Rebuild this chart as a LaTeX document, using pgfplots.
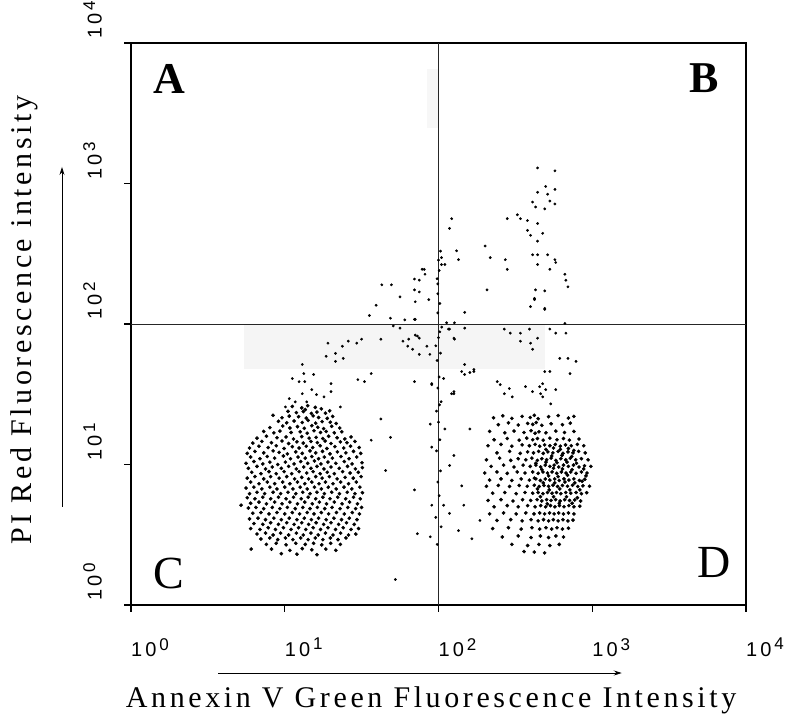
\documentclass[border=0pt]{standalone}
\usepackage{fontspec}
\setmainfont{Liberation Serif}
\newfontfamily\labfont[LetterSpace=12]{Liberation Serif}
\newfontfamily\tickfont{Liberation Sans}
\usepackage{pgfplots}
\pgfplotsset{compat=1.18}
\usetikzlibrary{arrows.meta}

% tick label: 10 with a raised exponent
\newcommand{\tl}[1]{{\fontsize{20}{20}\selectfont\tickfont 1\kern3pt0\kern3pt\raisebox{6.5pt}{\fontsize{17}{17}\selectfont #1}}}

\pgfplotsset{dot/.style={only marks, mark=*, mark size=1.2pt, black},
             bigdot/.style={only marks, mark=*, mark size=1.65pt, black}}

\begin{document}
\begin{tikzpicture}
\begin{axis}[
  scale only axis, width=615pt, height=562pt,
  xmode=log, ymode=log,
  xmin=1, xmax=10000, ymin=1, ymax=10000,
  xtick={1,10,100,1000,10000}, ytick={1,10,100,1000,10000},
  xticklabels={\tl{0},\tl{1},\tl{2},\tl{3},\tl{4}},
  yticklabels={\tl{0},\tl{1},\tl{2},\tl{3},\tl{4}},
  xminorticks=false, yminorticks=false,
  tick align=outside, xtick pos=left, ytick pos=left,
  major tick length=7pt,
  every tick/.style={black, line width=1.2pt},
  axis line style={line width=1.2pt},
  xticklabel style={anchor=north west, inner sep=0pt, yshift=-26pt},
  yticklabel style={rotate=90, anchor=south west, inner sep=0pt, xshift=4pt, yshift=22pt},
  xlabel={Annexin V Green Fluorescence Intensity},
  ylabel={PI Red Fluorescence intensity},
  xlabel style={at={(axis description cs:0.488,-0.1815)}, anchor=base, inner sep=0pt, font=\fontsize{30}{30}\selectfont\labfont},
  ylabel style={at={(axis description cs:-0.161,0.507)}, anchor=base, inner sep=0pt, font=\fontsize{30}{30}\selectfont\labfont},
  clip=false,
]
% faint scan shading
\fill[black!4] (axis cs:5.46,100) rectangle (axis cs:491,48.2);
\fill[black!3] (axis cs:84,2488) rectangle (axis cs:100,6494);
% quadrant lines
\draw[line width=0.9pt, black!85] (axis cs:100,1) -- (axis cs:100,10000);
\draw[line width=0.9pt, black!85] (axis cs:1,100) -- (axis cs:10000,100);

% viable cells (C)
\addplot[bigdot] coordinates {
(11.2,25.9) (12.9,25.3) (14.1,26.2) (15.8,25.5) (17.3,24.9) (13.6,24.6)
(10.5,23.9) (11.9,23.4) (13.2,23.8) (14.9,23.1) (16.2,23.6) (18.4,23.2) (19.6,24.1)
(9.6,21.5) (10.7,22.1) (12.3,21.9) (13.8,21.4) (15.3,22.2) (16.6,21.6) (18.9,21.3) (20.5,22.0) (8.4,22.4)
(9.1,20.3) (10.3,19.8) (11.5,20.4) (13.0,19.9) (14.2,20.6) (15.9,19.7) (17.5,20.2) (19.8,20.0) (21.6,19.6)
(8.0,18.3) (9.7,18.8) (10.8,18.2) (12.1,18.6) (13.4,18.1) (15.0,18.9) (16.4,18.4) (17.9,18.0) (20.2,18.7) (22.8,18.2)
(7.3,17.2) (8.5,16.8) (9.3,17.3) (11.0,16.9) (12.6,17.1) (14.0,16.7) (15.5,17.4) (17.1,16.9) (18.6,17.2) (21.0,16.8) (23.5,17.1)
(6.6,15.4) (7.6,15.9) (8.9,15.5) (10.2,15.7) (11.4,15.2) (12.9,15.8) (14.4,15.4) (16.0,15.6) (17.7,15.3) (19.3,15.9) (21.9,15.5) (24.6,15.2) (27.0,15.7)
(6.2,14.2) (7.1,14.6) (8.2,14.3) (9.6,14.7) (10.6,14.1) (12.0,14.5) (13.2,14.2) (14.8,14.6) (16.3,14.3) (18.3,14.7) (20.0,14.1) (23.0,14.5) (25.4,14.3) (28.6,14.6)
(5.9,13.1) (6.8,13.5) (7.8,13.2) (8.8,13.6) (9.9,13.0) (11.2,13.4) (12.4,13.1) (13.8,13.5) (15.2,13.2) (17.0,13.6) (18.8,13.0) (21.2,13.4) (24.2,13.1) (26.8,13.5) (30.5,13.2)
(5.7,12.0) (6.4,12.4) (7.3,12.1) (8.4,12.5) (9.2,12.2) (10.4,11.9) (11.8,12.3) (13.0,12.0) (14.6,12.5) (15.9,12.1) (17.6,12.4) (19.7,11.9) (22.0,12.3) (25.0,12.1) (28.0,12.4) (31.2,12.0)
(6.0,11.3) (6.9,11.0) (7.7,11.4) (8.6,11.1) (9.8,11.5) (10.9,11.0) (12.2,11.3) (13.6,11.1) (15.0,11.4) (16.6,11.0) (18.1,11.3) (20.4,11.1) (23.2,11.4) (26.2,11.0) (29.4,11.3)
(5.6,10.2) (6.3,10.5) (7.2,10.1) (8.0,10.4) (9.0,10.0) (10.1,10.4) (11.5,10.1) (12.7,10.5) (14.1,10.2) (15.6,10.6) (17.2,10.1) (19.1,10.4) (21.5,10.2) (24.4,10.5) (27.4,10.1) (31.8,10.3)
(5.8,9.4) (6.6,9.7) (7.5,9.3) (8.3,9.6) (9.5,9.4) (10.6,9.7) (11.9,9.3) (13.3,9.6) (14.8,9.4) (16.2,9.7) (18.0,9.3) (20.0,9.6) (22.6,9.4) (25.6,9.7) (28.8,9.3) (32.0,9.5)
(6.1,8.8) (7.0,8.6) (7.9,8.9) (8.8,8.6) (9.9,8.9) (11.1,8.6) (12.4,8.9) (13.9,8.7) (15.3,8.9) (17.0,8.6) (18.9,8.8) (21.0,8.6) (23.8,8.9) (26.6,8.7) (30.1,8.8)
(5.7,8.0) (6.4,8.2) (7.3,7.9) (8.1,8.2) (9.2,8.0) (10.3,8.2) (11.6,7.9) (12.9,8.1) (14.3,7.9) (15.9,8.2) (17.5,8.0) (19.5,8.2) (21.9,7.9) (24.7,8.1) (27.9,8.0) (31.4,8.2)
(6.0,7.5) (6.8,7.3) (7.7,7.5) (8.6,7.3) (9.7,7.5) (10.8,7.3) (12.1,7.5) (13.5,7.3) (15.0,7.5) (16.7,7.3) (18.4,7.5) (20.6,7.3) (23.1,7.5) (26.0,7.3) (29.2,7.5)
(5.6,6.8) (6.3,6.9) (7.1,6.7) (8.0,6.9) (8.9,6.7) (10.0,6.9) (11.3,6.7) (12.6,6.9) (14.0,6.7) (15.6,6.9) (17.3,6.7) (19.2,6.9) (21.6,6.7) (24.3,6.9) (27.3,6.7) (30.8,6.9)
(5.9,6.2) (6.6,6.35) (7.4,6.2) (8.4,6.35) (9.4,6.2) (10.5,6.35) (11.8,6.2) (13.1,6.35) (14.6,6.2) (16.2,6.35) (18.1,6.2) (20.2,6.35) (22.7,6.2) (25.5,6.35) (28.6,6.2) (32.0,6.3)
(5.7,5.8) (6.4,5.7) (7.2,5.85) (8.1,5.7) (9.1,5.85) (10.2,5.7) (11.4,5.85) (12.8,5.7) (14.2,5.85) (15.9,5.7) (17.7,5.85) (19.7,5.7) (22.1,5.85) (24.9,5.7) (28.0,5.85) (31.0,5.7)
(6.0,5.3) (6.8,5.4) (7.6,5.25) (8.6,5.4) (9.6,5.25) (10.8,5.4) (12.1,5.25) (13.5,5.4) (15.1,5.25) (16.8,5.4) (18.7,5.25) (21.0,5.4) (23.6,5.25) (26.4,5.4) (29.7,5.25)
(5.8,4.9) (6.5,4.95) (7.3,4.85) (8.3,4.95) (9.3,4.85) (10.4,4.95) (11.7,4.85) (13.1,4.95) (14.6,4.85) (16.3,4.95) (18.2,4.85) (20.3,4.95) (22.9,4.85) (25.7,4.95) (28.9,4.85) (31.6,4.95)
(6.2,4.5) (7.0,4.55) (7.9,4.45) (8.9,4.55) (10.0,4.45) (11.2,4.55) (12.5,4.45) (14.0,4.55) (15.5,4.45) (17.3,4.55) (19.3,4.45) (21.7,4.55) (24.4,4.45) (27.5,4.55) (30.6,4.45)
(5.9,4.1) (6.7,4.15) (7.5,4.05) (8.5,4.15) (9.5,4.05) (10.7,4.15) (12.0,4.05) (13.4,4.15) (14.9,4.05) (16.6,4.15) (18.6,4.05) (20.9,4.15) (23.4,4.05) (26.3,4.15) (29.5,4.05)
(6.3,3.8) (7.2,3.75) (8.1,3.85) (9.1,3.75) (10.3,3.85) (11.5,3.75) (12.9,3.85) (14.3,3.75) (16.0,3.85) (17.9,3.75) (20.0,3.85) (22.4,3.75) (25.2,3.85) (28.3,3.75)
(6.0,3.5) (6.9,3.45) (7.8,3.55) (8.7,3.45) (9.8,3.55) (11.0,3.45) (12.3,3.55) (13.7,3.45) (15.3,3.55) (17.1,3.45) (19.1,3.55) (21.4,3.45) (24.0,3.55) (27.0,3.45) (30.2,3.5)
(6.6,3.2) (7.5,3.25) (8.4,3.15) (9.4,3.25) (10.6,3.15) (11.9,3.25) (13.2,3.15) (14.8,3.25) (16.5,3.15) (18.4,3.25) (20.6,3.15) (23.1,3.25) (26.0,3.15) (29.0,3.2)
(7.0,2.95) (8.0,3.0) (9.0,2.92) (10.1,3.0) (11.3,2.92) (12.7,3.0) (14.2,2.92) (15.8,3.0) (17.7,2.92) (19.8,3.0) (22.2,2.92) (25.0,3.0)
(7.6,2.7) (8.8,2.75) (10.2,2.68) (11.8,2.75) (13.6,2.7) (15.4,2.75) (17.4,2.68) (19.9,2.75) (23.0,2.7)
(8.2,2.5) (10.8,2.45) (13.0,2.52) (15.0,2.47) (18.5,2.5) (21.5,2.45)
(9.5,2.32) (16.2,2.28) (12.0,2.3) (5.2,5.13) (6.05,2.5)
};

% early apoptotic cells (D)
\addplot[bigdot] coordinates {
(228,21.5) (262,22.2) (300,21.3) (350,22.0) (395,21.6) (420,22.4) (445,21.2) (520,21.9) (600,22.3) (700,21.4) (760,22.0)
(245,19.2) (285,19.8) (330,19.1) (380,19.6) (410,19.3) (432,19.9) (470,19.0) (540,19.5) (640,19.2) (720,19.7)
(215,17.2) (270,16.8) (310,17.3) (360,16.9) (400,17.4) (425,16.7) (450,17.1) (500,16.8) (580,17.3) (660,16.9) (760,17.2)
(230,15.0) (280,15.3) (335,14.9) (375,15.4) (410,15.0) (440,15.3) (480,14.9) (530,15.4) (590,15.0) (650,15.3) (710,14.9) (820,15.2)
(210,13.6) (255,13.9) (300,13.5) (350,13.8) (390,13.6) (425,13.9) (455,13.5) (490,13.8) (530,13.6) (575,13.9) (620,13.5) (670,13.8) (730,13.6) (800,13.9) (880,13.6)
(240,12.1) (290,12.4) (340,12.0) (380,12.3) (415,12.1) (448,12.4) (480,12.0) (515,12.3) (555,12.1) (600,12.4) (645,12.0) (695,12.3) (750,12.1) (815,12.4) (900,12.1)
(205,10.8) (250,11.1) (295,10.7) (330,11.0) (370,10.8) (405,11.1) (440,10.7) (470,11.0) (505,10.8) (540,11.1) (580,10.7) (625,11.0) (672,10.8) (720,11.1) (780,10.8) (850,11.0) (940,10.8)
(220,9.7) (265,9.9) (310,9.6) (355,9.9) (395,9.7) (430,9.9) (462,9.6) (495,9.9) (530,9.7) (565,9.9) (605,9.6) (650,9.9) (700,9.7) (755,9.9) (820,9.6) (890,9.8) (980,9.7)
(200,8.7) (240,8.85) (280,8.65) (325,8.85) (365,8.7) (410,8.85) (445,8.65) (478,8.85) (512,8.7) (548,8.85) (588,8.65) (630,8.85) (675,8.7) (725,8.85) (785,8.65) (850,8.85) (925,8.7)
(215,7.75) (255,7.9) (300,7.7) (345,7.9) (390,7.75) (430,7.9) (460,7.7) (495,7.9) (530,7.75) (570,7.9) (610,7.7) (655,7.9) (705,7.75) (760,7.9) (825,7.7) (895,7.85)
(205,7.0) (245,7.1) (290,6.98) (335,7.1) (378,7.0) (420,7.12) (452,6.98) (485,7.1) (520,7.0) (555,7.12) (595,6.98) (640,7.1) (690,7.0) (745,7.12) (805,6.98) (870,7.05) (960,7.0)
(225,6.25) (270,6.32) (320,6.2) (365,6.32) (410,6.25) (445,6.32) (478,6.2) (512,6.32) (548,6.25) (585,6.32) (625,6.2) (672,6.32) (725,6.25) (785,6.32) (850,6.2) (920,6.3)
(210,5.55) (255,5.62) (305,5.5) (352,5.62) (398,5.55) (438,5.62) (470,5.5) (505,5.62) (540,5.55) (578,5.62) (618,5.5) (662,5.62) (712,5.55) (770,5.6) (840,5.5)
(230,5.0) (280,5.1) (330,5.0) (380,5.1) (425,5.0) (462,5.1) (498,5.0) (535,5.1) (572,5.0) (612,5.1) (655,5.0) (705,5.1) (760,5.0) (830,5.05)
(215,4.45) (265,4.52) (320,4.45) (370,4.52) (418,4.45) (455,4.52) (490,4.45) (528,4.52) (565,4.45) (605,4.52) (650,4.45) (700,4.52) (760,4.45)
(240,4.0) (295,4.05) (350,3.97) (400,4.05) (445,3.97) (482,4.05) (520,3.97) (558,4.05) (600,3.97) (645,4.05) (695,3.97) (750,4.02)
(225,3.5) (285,3.55) (345,3.47) (405,3.55) (455,3.47) (500,3.55) (545,3.47) (590,3.55) (640,3.47) (700,3.52)
(260,3.05) (330,3.1) (400,3.02) (460,3.1) (520,3.02) (580,3.1) (650,3.05)
(300,2.7) (380,2.65) (450,2.7) (530,2.65) (610,2.7)
(360,2.4) (490,2.35) (420,2.38)
(470,9.2) (520,8.3) (560,9.4) (600,8.2) (640,9.3) (690,8.4) (740,9.2) (500,10.4) (545,11.5) (590,10.3)
(635,11.6) (685,10.4) (735,11.4) (790,10.2) (480,7.4) (525,6.6) (570,7.4) (615,6.7) (665,7.5) (715,6.6)
(770,7.4) (830,6.6) (500,12.8) (560,13.1) (620,12.8) (700,13.0) (760,12.6) (460,5.9) (510,5.25) (560,5.9)
(610,5.3) (680,5.9) (740,5.3) (800,5.8) (420,8.0) (430,10.2) (440,6.7) (880,9.3) (860,7.6) (910,8.3)
};

% late apoptotic / necrotic and transitional events
\addplot[dot] coordinates {
(441,1291) (572,1231) (498,953) (572,908) (441,866) (513,839) (409,738) (530,750) (572,715) (428,681)
(491,660) (326,599) (280,562) (341,562) (379,545) (441,519) (379,464) (397,428) (476,442) (121.8,562)
(118,479) (441,389) (201,359) (131,332) (135,287) (217,297) (409,311) (441,311) (513,311) (572,287)
(579,274) (272,287) (280,245) (441,265) (530,245) (104.6,265) (110,265) (664,226) (674,205) (695,184)
(207,175) (428,175) (491,172) (421,152) (397,133) (491,129) (148,121) (421,149) (104.6,297) (99,193) (99,164)
(81.7,226) (80.8,245) (69.8,209) (75,205) (69.8,175) (75,169) (70.6,144) (86.5,149) (56.2,156) (69.8,108)
(78.3,245) (42.8,190) (49.4,190) (39.3,136) (35.5,115) (48.7,110) (60.4,107) (70.6,108)
(293,86.1) (341,86.1) (441,79.3) (397,73) (530,92) (579,86.1) (664,101) (674,86.1) (118,92) (126,79.3)
(127,102) (491,127) (112.9,102) (116,92) (148,93.5) (268,92) (391,92) (341,75.5) (127,78) (409,66.1)
(84.1,69.5) (615,56.9) (695,56.9) (785,54.2) (148,51.5) (170,47.4) (148,43.7) (160,45.2) (491,45.9) (530,45.9)
(717,44.4) (90.4,37) (126,31.9) (108,40.9) (241,38.9) (252,37) (268,31.9) (289,34.7) (368,35.8) (409,33)
(455,35.8) (476,37.6) (462,31.9) (498,34.1) (579,34.1) (302,30.3) (476,30.3) (537,27) (101.5,26.6)
(50.8,96.8) (56.2,93.5) (42.2,78) (70.6,83.3) (75,79.3) (58.7,75.5) (63.1,69.5) (67.8,66.1) (75,60.8) (87.9,60.8)
(31.6,78) (29.4,73) (25.9,75.5) (23.7,69.5) (19.1,73) (21.4,61.8) (18.6,58.9) (24,56.9) (21.4,54.2) (13,51.5)
(13.3,44.4) (11.2,40.9) (12.4,38.9) (13.5,38.9) (15.4,43.7) (29.9,40.2) (33,38.9) (36.5,44.4) (20,37.6) (69.8,38.9)
(90.4,37.6) (13,31.9) (15,34.1) (16.1,31.4) (18,30.3) (20,33) (10.7,29.4) (11.7,27.9) (13.9,27.9) (10.1,25.7)
(23,25.7) (121.8,31.9) (72.9,82) (64,78)
(42.2,21.1) (45.3,9.05) (48.7,15.6) (36.5,14.9)
(126,33) (88.4,19.4) (110,17.9) (160,17.9) (141.6,45.9) (170,45.9) (90.4,13.3) (126,11.6) (118,9.84) (69.8,6.59)
(141.6,7.05) (108,5.13) (90.4,5.13) (118,4.49) (146,5.13) (72.9,3.22) (88.4,3.06) (186,4.0) (135,3.38) (165,2.96) (52.4,1.52)
(97,12.5) (103,9) (99,7.5) (101,6) (96,4.2) (104,3.6) (98,2.7) (102,15) (100,20) (97,24)
(104,28) (99,35) (101,42) (98,55) (103,62) (96,70) (100,80) (102,88) (105,95) (99,120)
(102,140) (98,210) (101,240) (100,285) (103,330)
};

% quadrant letters
\node[anchor=base west, inner sep=0pt, font=\fontsize{44}{44}\selectfont\bfseries] at (axis description cs:0.0358,0.911) {A};
\node[anchor=base west, inner sep=0pt, font=\fontsize{44}{44}\selectfont\bfseries] at (axis description cs:0.9073,0.9128) {B};
\node[anchor=base west, inner sep=0pt, font=\fontsize{46}{46}\selectfont] at (axis description cs:0.0358,0.0302) {C};
\node[anchor=base west, inner sep=0pt, font=\fontsize{46}{46}\selectfont] at (axis description cs:0.9203,0.0498) {D};

% direction arrows
\draw[-{Stealth[length=8pt,width=5pt]}, line width=0.8pt] (axis description cs:-0.1122,0.1744) -- (axis description cs:-0.1122,0.7794);
\draw[-{Stealth[length=8pt,width=5pt]}, line width=0.8pt] (axis description cs:0.1415,-0.121) -- (axis description cs:0.798,-0.121);
\end{axis}
\pgfresetboundingbox
\path[use as bounding box] (-131pt,-116pt) rectangle (657pt,605pt);
\end{tikzpicture}
\end{document}
